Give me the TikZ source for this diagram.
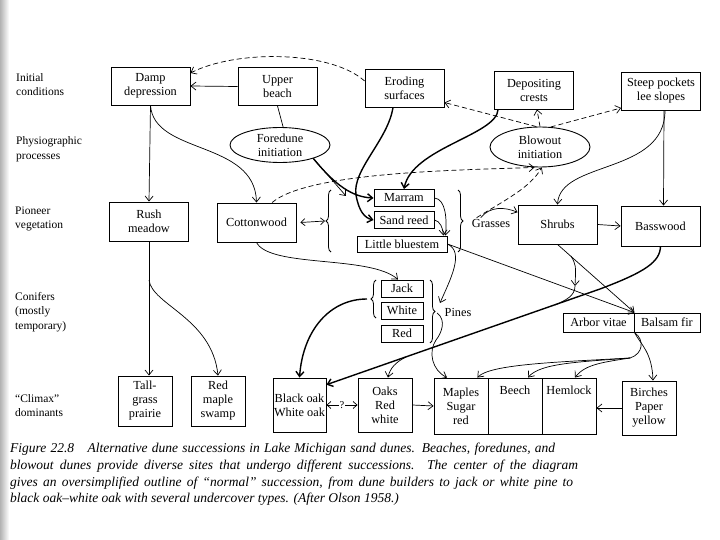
\documentclass[tikz,border=0pt]{standalone}
\usepackage{fontspec}
\setmainfont{Liberation Serif}
\usetikzlibrary{arrows.meta,shapes.geometric,decorations.pathreplacing,calc}
\begin{document}
\begin{tikzpicture}[x=1pt,y=-1pt,
  box/.style={draw, line width=0.9pt, align=center, font=\fontsize{12.3}{14}\selectfont, inner sep=1pt},
  bigbox/.style={box, minimum width=79pt, minimum height=38pt},
  smallbox/.style={box, minimum height=17pt},
  tallbox/.style={box, minimum width=54pt, minimum height=52pt},
  oval/.style={draw, ellipse, line width=0.9pt, align=center, font=\fontsize{12.3}{14}\selectfont, inner sep=0pt, minimum width=100pt},
  lab/.style={anchor=west, align=left, font=\fontsize{11.5}{14.5}\selectfont, inner sep=0pt},
  txt/.style={font=\fontsize{12.3}{14}\selectfont, inner sep=1pt},
  captxt/.style={anchor=base west, inner sep=0pt, font=\fontsize{13.5}{16}\selectfont\itshape},
  arr/.style={-{Straight Barb[length=5pt,width=8pt]}, line width=0.7pt},
  dbl/.style={{Straight Barb[length=4pt,width=7pt]}-{Straight Barb[length=4pt,width=7pt]}, line width=0.7pt},
  thk/.style={line width=1.4pt},
  dsh/.style={dash pattern=on 5pt off 3pt},
  brc/.style={decorate, decoration={brace, amplitude=5pt}, line width=0.8pt}
]
\useasboundingbox (0,0) rectangle (720,540);
\shade[left color=black!30, right color=white] (0,0) rectangle (9,540);

% row labels
\node[lab] (l1) at (16,84.5) {Initial\\conditions};
\node[lab] (l2) at (16,149) {Physiographic\\processes};
\node[lab] (l3) at (15,219) {Pioneer\\vegetation};
\node[lab] (l4) at (15,312) {Conifers\\(mostly\\temporary)};
\node[lab] (l5) at (15,405.5) {“Climax”\\dominants};

% initial conditions
\node[bigbox] (damp) at (150.5,86) {Damp\\depression};
\node[bigbox] (upper) at (277.5,86.5) {Upper\\beach};
\node[bigbox] (erod) at (404.5,88) {Eroding\\surfaces};
\node[bigbox] (depo) at (534,90) {Depositing\\crests};
\node[bigbox] (steep) at (661,91) {Steep pockets\\lee slopes};

% processes
\node[oval, minimum height=35pt] (foredune) at (280,145) {Foredune\\initiation};
\node[oval, minimum height=40pt] (blowout) at (540,147) {Blowout\\initiation};

% pioneer
\node[bigbox, minimum height=39pt] (rush) at (149,221.5) {Rush\\meadow};
\node[bigbox, minimum height=39pt] (cotton) at (256.5,222.5) {Cottonwood};
\node[smallbox, minimum width=60pt] (marram) at (404,198) {Marram};
\node[smallbox, minimum width=60pt] (sandreed) at (404,220) {Sand reed};
\node[box, minimum width=90pt, minimum height=16pt] (bluestem) at (402,244) {Little bluestem};
\node[txt] (grasses) at (491,223) {Grasses};
\node[bigbox, minimum height=39pt] (shrubs) at (557.5,224.5) {Shrubs};
\node[bigbox, minimum height=40pt] (basswood) at (660.5,226) {Basswood};

% conifers
\node[smallbox, minimum width=42pt] (jack) at (402,288.5) {Jack};
\node[smallbox, minimum width=42pt] (white) at (402,310.5) {White};
\node[smallbox, minimum width=42pt] (red) at (402,333.5) {Red};
\node[txt] (pines) at (458,312) {Pines};
\node[box, minimum width=71pt, minimum height=19pt] (arbor) at (598.5,322.5) {Arbor vitae};
\node[box, minimum width=66pt, minimum height=19pt] (balsam) at (667,322.5) {Balsam fir};

% climax
\node[tallbox, minimum height=50pt] (tall) at (145,401) {Tall-\\grass\\prairie};
\node[tallbox, minimum height=50pt] (redmaple) at (218,401) {Red\\maple\\swamp};
\node[tallbox, minimum width=53pt, minimum height=54pt, inner sep=0pt] (blackoak) at (299.5,405) {Black oak\\White oak};
\node[tallbox, minimum height=54pt] (oaks) at (385,405) {Oaks\\Red\\white};
\node[tallbox, minimum height=56pt] (maples) at (461,406) {Maples\\Sugar\\red};
\node[tallbox, minimum height=56pt] (beech) at (515,406) {Beech\\\strut\\\strut};
\node[tallbox, minimum height=56pt] (hemlock) at (569,406) {Hemlock\\\strut\\\strut};
\node[tallbox, minimum height=54pt] (birches) at (649,408) {Birches\\Paper\\yellow};

% braces
\draw[brc] (331,252) -- (331,190);
\draw[brc] (458,190) -- (458,252);
\draw[brc] (376,318) -- (376,280);
\draw[brc] (430,280) -- (430,343);

% helper coordinates
\coordinate (gin) at (346,196);
\coordinate (gleft) at (325,221);
\coordinate (pinesin) at (440,303);
\coordinate (pinestip) at (437,313);
\coordinate (conl) at (367,299);
\coordinate (bk) at (600,289);
\coordinate (obr) at (406,357);
\coordinate (sbr) at (571,256);
\coordinate (smid) at (575,286);
\coordinate (smg) at (555,305);
\coordinate (rushbr) at (149,280);
\coordinate (absplit) at (630,358);

% connectors, top
\draw[arr] (upper.west) -- (damp.east);
\draw[arr,dsh] (erod.170) .. controls (330,50) and (235,50) .. (damp.18);
\draw[arr] (damp.south) -- (rush.north);
\draw[arr] (damp.south) .. controls (154,155) and (255,140) .. (cotton.north);
\draw[line width=0.7pt] (upper.south) -- (foredune.80);
\draw[arr,thk] (foredune.-22) .. controls (335,185) and (352,197) .. (marram.west);
\draw[arr] (foredune.-22) -- (gin);
\draw[arr,thk] ([xshift=4pt]depo.south west) .. controls (497,135) and (412,148) .. (marram.north);
\draw[arr,thk] ([xshift=-11.5pt]erod.south) .. controls (388,140) and (352,170) .. (356,195) .. controls (359,212) and (365,218) .. (sandreed.west);

% blowout dashed
\draw[arr,dsh] (blowout.100) -- (erod.-20);
\draw[arr,dsh] (blowout.north) -- ([xshift=3pt]depo.south);
\draw[arr,dsh] (blowout.62) -- (steep.203);
\draw[arr,dsh] (cotton.52) .. controls (310,170) and (480,170) .. (blowout.-105);
\draw[arr,dsh] ([xshift=6pt]grasses.north west) .. controls (505,200) and (530,188) .. (blowout.-85);

% pioneer
\draw[dbl] ([xshift=4pt]cotton.east) -- (gleft);
\draw[arr] ([xshift=10pt]grasses.north west) .. controls (490,206) and (505,207) .. (shrubs.163);
\draw[arr] ([xshift=4pt]steep.south) .. controls (665,175) and (560,160) .. (shrubs.north);
\draw[arr] ([xshift=3pt]steep.south) -- ([xshift=3pt]basswood.north);
\draw[arr] (shrubs.east) -- (basswood.west);
\draw[arr] (marram.east) .. controls (446,199) and (447,220) .. ([xshift=-2pt]bluestem.north east);
\draw[arr] (sandreed.east) .. controls (440,221) and (443,228) .. ([xshift=-4pt]bluestem.north east);
\draw[arr] (bluestem.east) .. controls (465,252) and (450,280) .. (pinesin);
\draw[arr] (bluestem.east) -- (arbor.north east);
\draw[arr] (shrubs.south) -- (arbor.north east);
\draw[arr] (sbr) .. controls (576,265) .. (smid);
\draw[line width=0.7pt] (smid) .. controls (575,296) and (566,300) .. (smg);

% conifers and climax
\draw[arr,thk] (basswood.south) .. controls (660,262) and (645,272) .. (bk) -- (blackoak.37);
\draw[arr] (obr) .. controls (396,362) and (390,368) .. ([xshift=3pt]oaks.north);
\draw[arr,thk] (conl) .. controls (330,299) and (303,330) .. (blackoak.north);
\draw[arr] (cotton.south) .. controls (270,268) and (370,255) .. ([xshift=-4pt]jack.north);
\draw[arr] (rush.south) -- (rush.south |- tall.north);
\draw[arr] (rushbr) .. controls (152,305) and (212,318) .. (redmaple.north);
\draw[arr] (pinestip) .. controls (447,320) and (441,334) .. (436,340) .. controls (428,352) and (432,370) .. ([xshift=-14pt]maples.north);
\draw[dbl] (blackoak.east) -- node[fill=white, inner sep=0.5pt, font=\fontsize{10.5}{12}\selectfont]{?} (oaks.west);
\draw[arr] (oaks.east) -- (maples.west);
\draw[arr] (birches.west) -- (birches.west -| hemlock.east);
\draw[arr] (arbor.south east) .. controls (641,345) and (652,352) .. ([xshift=4pt]birches.north);
\draw[line width=0.7pt] (arbor.south east) .. controls (645,340) and (643,354) .. (absplit);
\draw[arr] (absplit) .. controls (560,362) and (490,364) .. ([xshift=-11pt]maples.north east);
\draw[arr] (absplit) .. controls (580,362) and (540,363) .. ([xshift=13pt]beech.north);
\draw[arr] (absplit) .. controls (605,362) and (585,364) .. ([xshift=6pt]hemlock.north);

% caption
\node[captxt] (c1) at (10,452) {\makebox[545pt][s]{Figure 22.8\hspace{1em}Alternative dune successions in Lake Michigan sand dunes. Beaches, foredunes, and}};
\node[captxt] (c2) at (10,469) {\makebox[568pt][s]{blowout dunes provide diverse sites that undergo different successions. The center of the diagram}};
\node[captxt] (c3) at (10,486) {\makebox[563pt][s]{gives an oversimplified outline of “normal” succession, from dune builders to jack or white pine to}};
\node[captxt] (c4) at (10,502) {black oak–white oak with several undercover types. (After Olson 1958.)};
\end{tikzpicture}
\end{document}
